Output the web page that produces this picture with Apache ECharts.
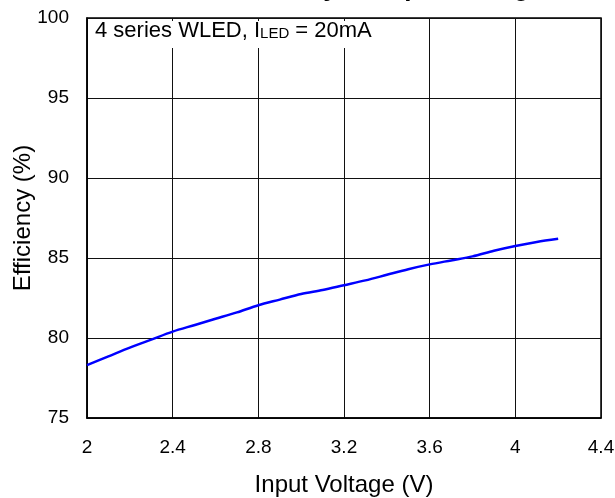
<!DOCTYPE html>
<html>
<head>
<meta charset="utf-8">
<script src="https://cdn.jsdelivr.net/npm/echarts@6/dist/echarts.min.js"></script>
<style>
  html, body { margin: 0; padding: 0; background: #fff; }
  #chart { width: 615px; height: 498px; }
</style>
</head>
<body>
<div id="chart"></div>
<script>
/* =================== Efficiency vs Input Voltage =================== */

// Input voltage (V)
const inputVoltage = [2.0, 2.1, 2.2, 2.3, 2.4, 2.5, 2.6, 2.7, 2.8, 2.9, 3.0, 3.1,
  3.2, 3.3, 3.4, 3.5, 3.6, 3.7, 3.8, 3.9, 4.0, 4.1, 4.2];
// Efficiency (%)
const efficiency = [78.3, 78.85, 79.4, 79.9, 80.4, 80.8, 81.2, 81.6, 82.05, 82.4, 82.75, 83.0,
  83.3, 83.6, 83.95, 84.3, 84.6, 84.85, 85.1, 85.45, 85.75, 86.0, 86.2];

// Axis ranges / tick spacing
const xRange = [2, 4.4, 0.4];
const yRange = [75, 100, 5];

const FONT = '"Liberation Sans", Arial, sans-serif';

function initChart() {
  const container = document.getElementById('chart');
  if (!container) return;

  const chart = echarts.init(container, null, { renderer: 'canvas' });

  chart.setOption({
    backgroundColor: '#fff',
    animation: false,
    grid: {
      left: 87,
      top: 18,
      right: 14,
      bottom: 80,
      outerBoundsMode: 'none',
      containLabel: false,
      show: true,
      borderColor: '#000',
      borderWidth: 1.5
    },
    // title is cropped at the top edge, only descenders show
    graphic: [
      {
        type: 'text',
        left: 215,
        top: -24,
        z: 10,
        style: {
          text: 'Efficiency vs Input Voltage',
          fill: '#000',
          font: 'bold 26px ' + FONT
        }
      },
      {
        type: 'text',
        left: 91,
        top: 20,
        z: 10,
        style: {
          text: '4 series WLED, I{sub|LED} = 20mA',
          fill: '#000',
          fontSize: 22,
          fontFamily: FONT,
          lineHeight: 20,
          backgroundColor: '#fff',
          padding: [0, 4, 7, 4],
          rich: {
            sub: {
              fontSize: 15,
              fontFamily: FONT,
              lineHeight: 14,
              verticalAlign: 'bottom',
              fill: '#000'
            }
          }
        }
      }
    ],
    xAxis: {
      type: 'value',
      min: xRange[0],
      max: xRange[1],
      interval: xRange[2],
      name: 'Input Voltage (V)',
      nameLocation: 'middle',
      nameGap: 55,
      nameMoveOverlap: false,
      nameTextStyle: { color: '#000', fontSize: 24, fontFamily: FONT },
      axisLine: { show: true, lineStyle: { color: '#000', width: 1.5 } },
      axisTick: { show: false },
      axisLabel: { color: '#000', fontSize: 19, fontFamily: FONT, margin: 20 },
      splitLine: { show: true, lineStyle: { color: '#111', width: 1 } }
    },
    yAxis: {
      type: 'value',
      min: yRange[0],
      max: yRange[1],
      interval: yRange[2],
      name: 'Efficiency (%)',
      nameLocation: 'middle',
      nameGap: 52,
      nameMoveOverlap: false,
      nameTextStyle: { color: '#000', fontSize: 24, fontFamily: FONT },
      axisLine: { show: true, lineStyle: { color: '#000', width: 1.5 } },
      axisTick: { show: false },
      axisLabel: { color: '#000', fontSize: 19, fontFamily: FONT, margin: 18 },
      splitLine: { show: true, lineStyle: { color: '#111', width: 1 } }
    },
    series: [
      {
        type: 'line',
        data: inputVoltage.map((v, i) => [v, efficiency[i]]),
        showSymbol: false,
        smooth: 0.3,
        lineStyle: { color: '#0000ff', width: 2.5 },
        z: 5
      }
    ]
  });
}

initChart();
</script>
</body>
</html>
